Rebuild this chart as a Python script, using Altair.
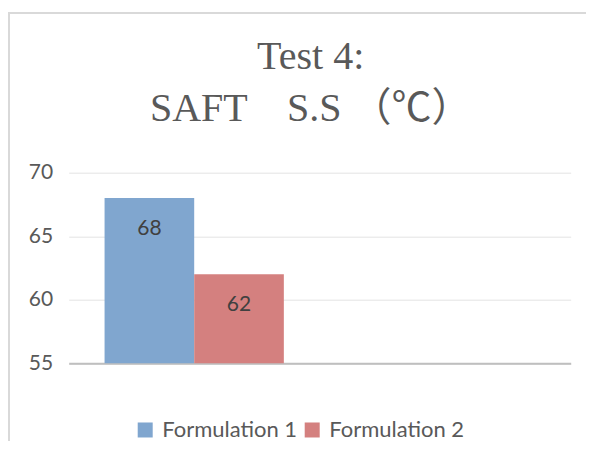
import altair as alt
import pandas as pd

# ---- data ----
formulations = ["Formulation 1", "Formulation 2"]
saft_values = [68, 62]
group_of_bar = ["SAFT S.S", "SAFT S.S"]
x_slots = ["SAFT S.S", "(blank)"]
y_ticks = [55, 60, 65, 70]
y_base = 55
y_top = 70
title_lines = ["Test 4:", "SAFT\u3000S.S\u00a0（℃）"]
bar_colors = ["#80A6CF", "#D4807F"]

df = pd.DataFrame({"group": group_of_bar, "formulation": formulations, "value": saft_values})

PAD_L, PAD_T, PAD_R, PAD_B = 60.7, 164.7, 15.3, 78
PLOT_W, PLOT_H = 502, 190.5

x_enc = alt.X(
    "group:N",
    scale=alt.Scale(domain=x_slots, paddingInner=0, paddingOuter=0),
    axis=alt.Axis(labels=False, ticks=False, title=None, domainColor="#BFBFBF",
                  domainWidth=2, grid=False),
)
xo_enc = alt.XOffset(
    "formulation:N",
    scale=alt.Scale(domain=formulations, paddingInner=0, paddingOuter=0.4),
)
y_enc = alt.Y(
    "value:Q",
    scale=alt.Scale(domain=[y_base, y_top], zero=False, nice=False),
    axis=alt.Axis(values=y_ticks, title=None, ticks=False, domain=False,
                  labelFont="Lato", labelFontSize=21, labelColor="#595959",
                  labelPadding=16, gridColor="#E3E3E3", gridWidth=1),
)

bars = alt.Chart(df).mark_bar().encode(
    x=x_enc,
    xOffset=xo_enc,
    y=y_enc,
    y2=alt.datum(y_base),
    color=alt.Color(
        "formulation:N",
        scale=alt.Scale(domain=formulations, range=bar_colors),
        legend=alt.Legend(
            orient="none", legendX=65.5, legendY=246.3, direction="horizontal",
            title=None, symbolType="square", symbolSize=225, symbolStrokeWidth=0,
            labelFont="Lato", labelFontSize=22, labelColor="#595959",
            labelOffset=6, columnPadding=3, padding=0,
        ),
    ),
)

labels = alt.Chart(df).mark_text(
    baseline="middle", dy=31, font="Lato", fontSize=21, color="#404040"
).encode(
    x=x_enc,
    xOffset=xo_enc,
    y=y_enc,
    text="value:Q",
)

frame_df = pd.DataFrame({"k": [0]})
left_line = alt.Chart(frame_df).mark_rule(color="#D9D9D9", strokeWidth=2).encode(
    x=alt.value(-59.7), y=alt.value(-160.5), y2=alt.value(PLOT_H + PAD_B)
)
top_line = alt.Chart(frame_df).mark_rule(color="#D9D9D9", strokeWidth=2).encode(
    x=alt.value(-60.7), x2=alt.value(PLOT_W + PAD_R), y=alt.value(-159.7)
)

chart = alt.layer(bars, labels, left_line, top_line).properties(
    width=PLOT_W,
    height=PLOT_H,
    title=alt.TitleParams(
        text=title_lines,
        font="'Liberation Serif', 'Noto Sans CJK SC'",
        fontSize=40,
        fontWeight="normal",
        color="#595959",
        lineHeight=52,
        anchor="middle",
        frame="group",
        dx=-9,
        offset=-118,
    ),
    autosize=alt.AutoSizeParams(type="none"),
    padding={"left": PAD_L, "top": PAD_T, "right": PAD_R, "bottom": PAD_B},
    background="white",
).configure_view(stroke=None)

chart.save("out.html", embed_options={"renderer": "svg", "actions": False})
